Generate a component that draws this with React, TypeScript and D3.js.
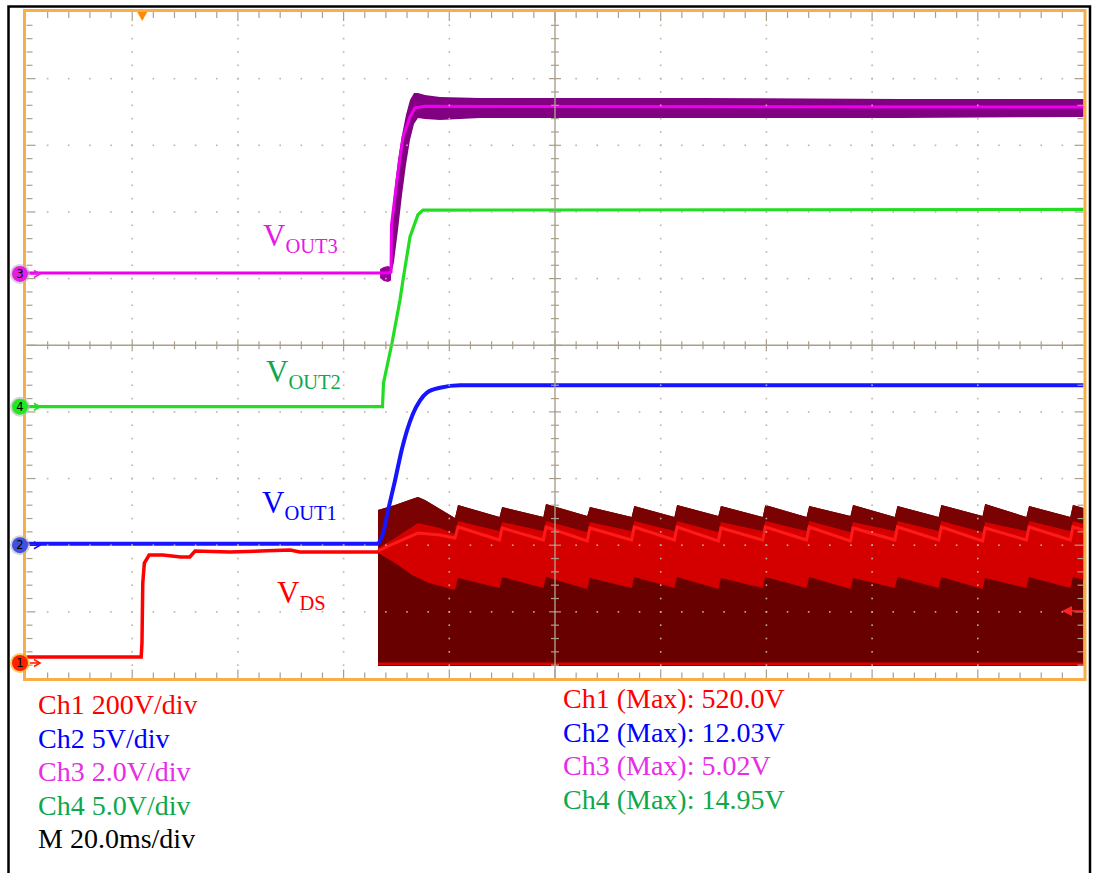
import React from "react";
import * as d3 from "d3";

// ---------- scope settings ----------
const W = 1093;
const H = 873;
const timePerDivMs = 20;
const divisions = 10;

// channel settings: volts/div and ground-marker offset (in divisions from bottom)
const chVoltsPerDiv = { ch1: 200, ch2: 5, ch3: 2, ch4: 5 };
const chOffsetDiv = { ch1: 0.233, ch2: 2.0, ch3: 6.07, ch4: 4.078 };

// ---------- data (time in ms, values in volts) ----------
// Ch1 VDS before switching
const vdsT = [0, 21.7, 21.85, 22.0, 22.3, 23.2, 25.8, 29.2, 30.9, 31.9, 38.5, 44.2, 49.9, 51.7, 57.4, 66.51];
const vdsV = [18, 18, 60, 240, 300, 324, 324, 318, 318, 336, 333, 336, 339, 333, 333, 333];

// Ch1 switching envelope
const toothT = [81.65, 90.0, 98.3, 106.6, 115.0, 123.1, 131.4, 139.8, 148.1, 156.4, 164.8, 173.1, 181.4, 189.7, 198.0];
const swTopInitT = [66.51, 69.72, 72.94, 74.07, 75.4, 81.08];
const swTopInitV = [459, 474, 492, 498, 489, 435];
const swTopPost = [474, 468, 477, 468, 471, 474, 471, 474, 471, 474, 471, 474, 477, 471, 474];
const swTopEnd = [438, 438, 441, 438, 438, 441, 438, 438, 441, 438, 438, 441, 438, 438, 465];
const swMidTopInitT = [66.51, 69.72, 74.07, 78.24, 81.08];
const swMidTopInitV = [345, 375, 420, 405, 387];
const swMidTopPost = [426, 423, 426, 423, 426, 426, 423, 426, 426, 423, 426, 426, 423, 426, 426];
const swMidTopEnd = [396, 396, 393, 396, 396, 393, 396, 396, 393, 396, 396, 393, 396, 396, 418];
const swLineInitT = [66.51, 69.72, 74.07, 78.24, 81.08];
const swLineInitV = [336, 360, 390, 384, 375];
const swLinePost = [408, 405, 408, 405, 408, 408, 405, 408, 408, 405, 408, 408, 405, 408, 408];
const swLineEnd = [369, 369, 366, 369, 369, 366, 369, 369, 366, 369, 369, 366, 369, 369, 399];
const swMidBotInitT = [66.51, 69.72, 72.94, 76.16, 81.08];
const swMidBotInitV = [330, 300, 264, 240, 219];
const swMidBotPost = [255, 258, 258, 255, 258, 258, 255, 258, 258, 255, 258, 258, 255, 258, 258];
const swMidBotEnd = [225, 225, 222, 225, 225, 222, 225, 225, 222, 225, 225, 222, 225, 225, 250];
const swFloorV = -9;
const swBaseV = -2;

// Ch2 VOUT1
const vout1T = [0, 66.51, 66.89, 67.45, 68.4, 69.72, 71.05, 73.13, 74.45, 75.78, 78.24, 82.03, 200];
const vout1V = [0.11, 0.11, 0.34, 0.86, 2.59, 4.84, 7.24, 9.86, 10.84, 11.44, 11.81, 12.0, 12.0];

// Ch4 VOUT2
const vout2T = [0, 67.36, 67.55, 69.16, 70.67, 71.24, 72.56, 74.07, 75.02, 200];
const vout2V = [0, 0, 1.78, 4.78, 8.0, 9.5, 12.73, 14.4, 14.75, 14.8];

// Ch3 VOUT3 (centre trace)
const vout3T = [0, 68.4, 68.97, 69.06, 70.1, 71.24, 72.56, 73.51, 75.4, 200];
const vout3V = [0.03, 0.03, 0.06, 1.47, 2.82, 4.11, 4.71, 4.98, 5.03, 5.01];
// Ch3 VOUT3 noise envelope
const vout3EnvT = [68.97, 69.53, 70.29, 71.05, 71.8, 72.56, 73.32, 74.07, 75.4, 78.24, 85.81, 100.94, 127.43, 165.27, 200];
const vout3EnvHi = [1.44, 2.37, 3.42, 4.17, 4.77, 5.22, 5.43, 5.43, 5.37, 5.31, 5.28, 5.28, 5.28, 5.25, 5.25];
const vout3EnvLo = [-0.03, 0.36, 1.32, 2.37, 3.27, 4.02, 4.5, 4.68, 4.65, 4.62, 4.68, 4.68, 4.68, 4.68, 4.71];
const vout3PreNoiseT = [66.9, 67.6, 68.4, 68.97];
const vout3PreNoiseHi = [0.15, 0.21, 0.24, 0.2];
const vout3PreNoiseLo = [-0.12, -0.21, -0.24, -0.2];

// text
const leftLegend = [
  { text: "Ch1 200V/div", color: "#ff0000" },
  { text: "Ch2 5V/div", color: "#0000ff" },
  { text: "Ch3 2.0V/div", color: "#e62ee6" },
  { text: "Ch4 5.0V/div", color: "#0ea84c" },
  { text: "M 20.0ms/div", color: "#000000" },
];
const rightLegend = [
  { text: "Ch1 (Max): 520.0V", color: "#ff0000" },
  { text: "Ch2 (Max): 12.03V", color: "#0000ff" },
  { text: "Ch3 (Max): 5.02V", color: "#e62ee6" },
  { text: "Ch4 (Max): 14.95V", color: "#0ea84c" },
];

// ---------- layout ----------
const X0 = 26.5, X1 = 1083.5, Y0 = 12, Y1 = 678.5;
const SERIF = "'Liberation Serif', 'Times New Roman', serif";

const xDiv = d3.scaleLinear().domain([0, divisions]).range([X0, X1]);
const yDiv = d3.scaleLinear().domain([0, divisions]).range([Y1, Y0]);
const xT = d3.scaleLinear().domain([0, timePerDivMs * divisions]).range([X0, X1]);

function chY(ch: keyof typeof chVoltsPerDiv) {
  const vpd = chVoltsPerDiv[ch];
  const off = chOffsetDiv[ch];
  return d3.scaleLinear().domain([0, vpd * divisions]).range([yDiv(off), yDiv(off + divisions)]);
}
const y1 = chY("ch1");
const y2 = chY("ch2");
const y3 = chY("ch3");
const y4 = chY("ch4");

const zip = (t: number[], v: number[]) => t.map((d, i) => [d, v[i]] as [number, number]);

function sawLayer(initT: number[], initV: number[], post: number[], end: number[]) {
  const pts = zip(initT, initV);
  toothT.forEach((t, k) => {
    pts.push([t, post[k]]);
    const nt = k < toothT.length - 1 ? toothT[k + 1] - 0.5 : 200;
    pts.push([nt, end[k]]);
  });
  return pts;
}

const topL = sawLayer(swTopInitT, swTopInitV, swTopPost, swTopEnd);
const midTopL = sawLayer(swMidTopInitT, swMidTopInitV, swMidTopPost, swMidTopEnd);
const lineL = sawLayer(swLineInitT, swLineInitV, swLinePost, swLineEnd);
const midBotL = sawLayer(swMidBotInitT, swMidBotInitV, swMidBotPost, swMidBotEnd);

function poly(upper: [number, number][], lower: [number, number][], ys: d3.ScaleLinear<number, number>) {
  const pts = [...upper, ...lower.slice().reverse()];
  return (d3.line<[number, number]>().x((d) => xT(d[0])).y((d) => ys(d[1]))(pts) || "") + "Z";
}
function lineP(pts: [number, number][], ys: d3.ScaleLinear<number, number>, curve = d3.curveLinear) {
  return d3.line<[number, number]>().x((d) => xT(d[0])).y((d) => ys(d[1])).curve(curve)(pts) || "";
}

const floorL: [number, number][] = [[66.51, swFloorV], [200, swFloorV]];

const GRID = "#aa9f8c";
const DOT = "#bdb3a2";

function Graticule() {
  const els: React.ReactNode[] = [];
  const sub = d3.range(1, divisions * 5);
  // dotted grid lines
  for (let i = 1; i < divisions; i++) {
    if (i === 5) continue;
    const x = xDiv(i);
    sub.forEach((j) => {
      els.push(<rect key={`vd${i}-${j}`} x={x - 0.8} y={yDiv(j / 5) - 0.8} width={1.6} height={1.6} fill={DOT} />);
    });
    const y = yDiv(i);
    sub.forEach((j) => {
      els.push(<rect key={`hd${i}-${j}`} x={xDiv(j / 5) - 0.8} y={y - 0.8} width={1.6} height={1.6} fill={DOT} />);
    });
  }
  // centre axes
  els.push(<line key="cx" x1={X0} x2={X1} y1={yDiv(5)} y2={yDiv(5)} stroke={GRID} strokeWidth={1.4} />);
  els.push(<line key="cy" x1={xDiv(5)} x2={xDiv(5)} y1={Y0} y2={Y1} stroke={GRID} strokeWidth={1.4} />);
  sub.forEach((j) => {
    const major = j % 5 === 0;
    const l = major ? 6 : 4;
    els.push(<line key={`cxt${j}`} x1={xDiv(j / 5)} x2={xDiv(j / 5)} y1={yDiv(5) - l} y2={yDiv(5) + l} stroke={GRID} strokeWidth={1.2} />);
    els.push(<line key={`cyt${j}`} x1={xDiv(5) - l} x2={xDiv(5) + l} y1={yDiv(j / 5)} y2={yDiv(j / 5)} stroke={GRID} strokeWidth={1.2} />);
    // border ticks
    const bl = major ? 9 : 6;
    els.push(<line key={`tt${j}`} x1={xDiv(j / 5)} x2={xDiv(j / 5)} y1={Y0} y2={Y0 + bl} stroke={GRID} strokeWidth={1.2} />);
    els.push(<line key={`bt${j}`} x1={xDiv(j / 5)} x2={xDiv(j / 5)} y1={Y1} y2={Y1 - bl} stroke={GRID} strokeWidth={1.2} />);
    els.push(<line key={`lt${j}`} x1={X0} x2={X0 + bl} y1={yDiv(j / 5)} y2={yDiv(j / 5)} stroke={GRID} strokeWidth={1.2} />);
    els.push(<line key={`rt${j}`} x1={X1} x2={X1 - bl} y1={yDiv(j / 5)} y2={yDiv(j / 5)} stroke={GRID} strokeWidth={1.2} />);
  });
  return <g>{els}</g>;
}

function Marker({ y, n, fill, ring, arrow }: { y: number; n: string; fill: string; ring: string; arrow: string }) {
  return (
    <g>
      <circle cx={20} cy={y} r={10} fill={ring} opacity={0.6} />
      <circle cx={20} cy={y} r={8} fill={fill} />
      <text x={20} y={y + 4} textAnchor="middle" fontSize={11.5} fontFamily="'DejaVu Sans', sans-serif" fill="#000">{n}</text>
      <line x1={30} x2={40} y1={y} y2={y} stroke={arrow} strokeWidth={1.6} />
      <path d={`M34,${y - 3.5} L40,${y} L34,${y + 3.5}`} fill="none" stroke={arrow} strokeWidth={1.6} />
    </g>
  );
}

function Label({ x, y, sub, color }: { x: number; y: number; sub: string; color: string }) {
  return (
    <text x={x} y={y} fill={color} fontFamily={SERIF} fontSize={31}>
      V
      <tspan fontSize={20.5} dy={7}>{sub}</tspan>
    </text>
  );
}

export default function App() {
  const vdsPts = zip(vdsT, vdsV);
  return (
    <div style={{ position: "absolute", left: 0, top: 0 }}>
      <svg width={W} height={H} viewBox={`0 0 ${W} ${H}`} style={{ display: "block", background: "#fff" }}>
        <rect x={0} y={0} width={W} height={H} fill="#fff" />
        {/* outer black frame */}
        <rect x={8.5} y={6.5} width={1081.5} height={880} fill="none" stroke="#000" strokeWidth={2.5} />
        {/* plot background */}
        <rect x={X0} y={Y0} width={X1 - X0} height={Y1 - Y0} fill="#fff" />

        {/* Ch1 switching envelope */}
        <path d={poly(topL, floorL, y1)} fill="#690000" />
        <path d={poly(topL, midTopL, y1)} fill="#7a0202" />
        <path d={poly(midTopL, midBotL, y1)} fill="#d40000" />
        <path d={lineP(lineL, y1)} fill="none" stroke="#ff1a1a" strokeWidth={3} />
        <path d={lineP([[66.51, swBaseV], [200, swBaseV]], y1)} fill="none" stroke="#e00000" strokeWidth={2.5} />
        {/* Ch1 before switching */}
        <path d={lineP(vdsPts, y1)} fill="none" stroke="#ff0000" strokeWidth={3.5} />

        {/* Ch2 */}
        <path d={lineP(zip(vout1T, vout1V), y2, d3.curveMonotoneX)} fill="none" stroke="#1515ff" strokeWidth={4} />
        {/* Ch4 */}
        <path d={lineP(zip(vout2T, vout2V), y4)} fill="none" stroke="#22dd22" strokeWidth={3.2} />
        {/* Ch3 */}
        <path d={poly(zip(vout3EnvT, vout3EnvHi), zip(vout3EnvT, vout3EnvLo), y3)} fill="#820082" />
        <path d={poly(zip(vout3PreNoiseT, vout3PreNoiseHi), zip(vout3PreNoiseT, vout3PreNoiseLo), y3)} fill="#9a009a" />
        <path d={lineP(zip(vout3T, vout3V), y3)} fill="none" stroke="#ee00ee" strokeWidth={3} />

        <Graticule />

        {/* orange frame */}
        <rect x={24.5} y={10.5} width={1060.5} height={669} fill="none" stroke="#f7ae48" strokeWidth={3} />

        {/* trigger position marker */}
        <path d={`M${xT(21.9) - 5},${Y0} L${xT(21.9) + 5},${Y0} L${xT(21.9)},${Y0 + 9} Z`} fill="#ff8a00" />
        {/* trigger level arrow */}
        <line x1={1070} x2={1084} y1={611} y2={611} stroke="#ff2020" strokeWidth={1.6} />
        <path d={`M1062,611 L1072,606 L1072,616 Z`} fill="#ff2020" />

        {/* channel markers */}
        <Marker y={y3(0)} n="3" fill="#e020e0" ring="#b8b8b8" arrow="#e020e0" />
        <Marker y={y4(0)} n="4" fill="#22e822" ring="#b8b8b8" arrow="#22dd22" />
        <Marker y={y2(0)} n="2" fill="#4050e0" ring="#b8b8b8" arrow="#1515ff" />
        <Marker y={y1(0)} n="1" fill="#ff2000" ring="#ffa500" arrow="#ff2000" />

        {/* trace labels */}
        <Label x={263} y={246} sub="OUT3" color="#e619e6" />
        <Label x={266} y={382} sub="OUT2" color="#0ea84c" />
        <Label x={262} y={513} sub="OUT1" color="#0000ff" />
        <Label x={277} y={603} sub="DS" color="#ff0000" />

        {/* legends */}
        {leftLegend.map((d, i) => (
          <text key={d.text} x={38} y={714 + i * 33.6} fill={d.color} fontFamily={SERIF} fontSize={28}>{d.text}</text>
        ))}
        {rightLegend.map((d, i) => (
          <text key={d.text} x={563} y={708 + i * 33.6} fill={d.color} fontFamily={SERIF} fontSize={28}>{d.text}</text>
        ))}
      </svg>
    </div>
  );
}
